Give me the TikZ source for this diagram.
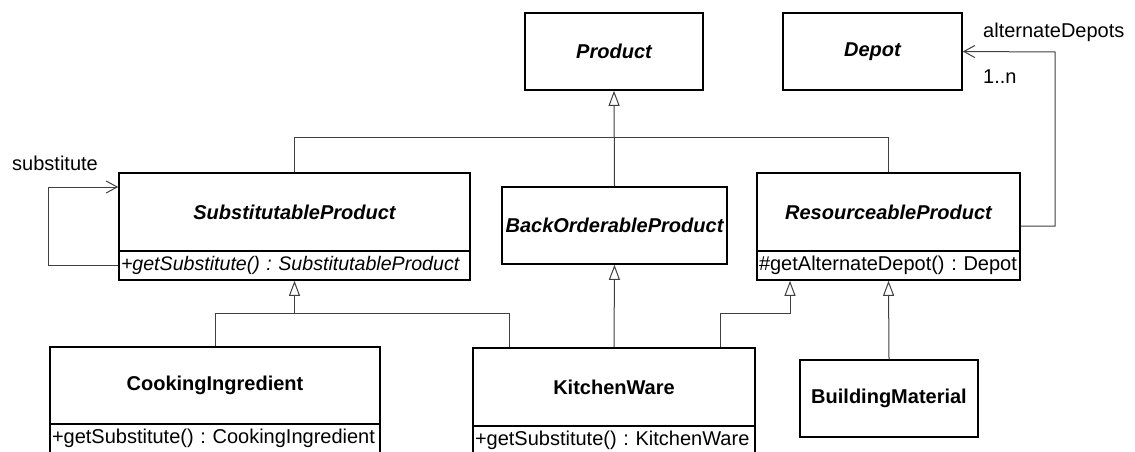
\documentclass[tikz,border=0pt]{standalone}
\usepackage{fontspec}
\setmainfont{Liberation Sans}
\usetikzlibrary{arrows.meta}
\frenchspacing
\tikzset{
 classbox/.style={draw=black, line width=1.6pt, inner sep=0pt, fill=white},
 abstr/.style={classbox, font=\fontsize{20}{24}\selectfont\bfseries\itshape},
 concr/.style={classbox, font=\fontsize{20}{24}\selectfont\bfseries},
 meth/.style={classbox, inner xsep=2pt, inner ysep=0pt, minimum height=29pt, align=left, font=\fontsize{20}{24}\selectfont},
 conn/.style={draw=black!75, line width=1pt},
 gen/.style={conn, -{Triangle[open, length=15pt, width=11pt, line width=1pt]}},
 assoc/.style={conn, -{Straight Barb[length=11pt, width=12pt, line width=1pt]}},
 lbl/.style={font=\fontsize{20}{24}\selectfont, inner sep=0pt, anchor=west},
}
\begin{document}
\begin{tikzpicture}[x=1pt,y=-1pt]
\fill[white] (0,0) rectangle (1135,452);
\useasboundingbox (0,0) rectangle (1135,452);

% classes
\node[abstr, minimum width=178pt, minimum height=77pt] (prod) at (614,51.5) {Product};
\node[abstr, minimum width=179pt, minimum height=77pt] (depot) at (872.5,51.5) {Depot};

\node[abstr, minimum width=351pt, minimum height=78pt] (subn) at (294.5,212) {SubstitutableProduct};
\node[meth, text width=347pt, font=\fontsize{19.6}{23}\selectfont\itshape] (subm) at (294.5,265.5) {+getSubstitute() : SubstitutableProduct};

\node[abstr, minimum width=225pt, minimum height=77pt] (back) at (614.5,225.5) {BackOrderableProduct};

\node[abstr, minimum width=263pt, minimum height=78pt] (resn) at (888.5,212) {ResourceableProduct};
\node[meth, text width=259pt] (resm) at (888.5,265.5) {\#getAlternateDepot() : Depot};

\node[concr, minimum width=330pt, minimum height=77pt] (cookn) at (215,385.5) {CookingIngredient};
\node[meth, text width=326pt] (cookm) at (215,438.5) {+getSubstitute() : CookingIngredient};

\node[concr, minimum width=282pt, minimum height=78pt] (kwn) at (614,387) {KitchenWare};
\node[meth, text width=278pt] (kwm) at (614,440.5) {+getSubstitute() : KitchenWare};

\node[concr, minimum width=178pt, minimum height=77pt] (bm) at (889,398.5) {BuildingMaterial};

% junction points
\coordinate (jp) at (614,137);
\coordinate (js) at (294.5,313);
\coordinate (jr) at (790,313);
\coordinate (ja) at (1055,52);
\coordinate (jl) at (48,187);

% generalizations to Product
\draw[conn] (subn.north) |- (jp);
\draw[conn] (resn.north) |- (jp);
\draw[gen] (back.north) -- (prod.south);

% generalizations to SubstitutableProduct
\draw[conn] (cookn.north) |- (js);
\draw[conn] ([xshift=-105pt]kwn.north) |- (js);
\draw[gen] (js) -- (subm.south);

% KitchenWare to BackOrderableProduct
\draw[gen] (kwn.north) -- (back.south);

% KitchenWare to ResourceableProduct
\draw[gen] ([xshift=106pt]kwn.north) |- (jr) -- (jr |- resm.south);

% BuildingMaterial to ResourceableProduct
\draw[gen] (bm.north) -- (resm.south);

% associations
\draw[assoc] ([yshift=-14pt]resn.east) -| (ja) -- (depot.east);
\draw[assoc] (subm.west) -| (jl) -- (jl -| subn.west);

% labels
\node[lbl] (lsub) at (12,163) {substitute};
\node[lbl] (lalt) at (983,32) {alternateDepots};
\node[lbl] (lmul) at (983,77) {1..n};
\end{tikzpicture}
\end{document}
